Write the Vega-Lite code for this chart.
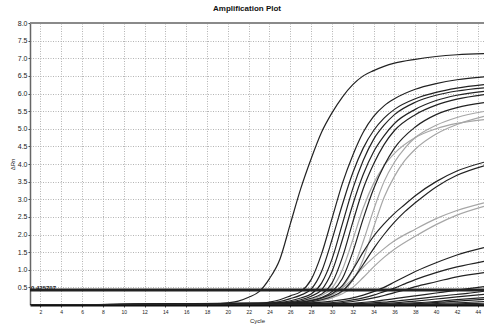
{
"$schema": "https://vega.github.io/schema/vega-lite/v6.json",
"width": 454, "height": 282,
"autosize": {"type": "none"},
"padding": {"left": 30, "top": 23, "right": 0, "bottom": 23},
"background": "white",
"title": {"text": "Amplification Plot", "fontSize": 8, "fontWeight": "bold", "font": "Liberation Sans", "color": "#111", "anchor": "middle", "dx": -10, "offset": 6},
"config": {"view": {"stroke": null}, "font": "Liberation Sans"},
"layer": [
{
"data": {"values": [
{"s":"G1","c":1,"v":0},{"s":"G1","c":27,"v":0.06},{"s":"G1","c":28,"v":0.1},{"s":"G1","c":29,"v":0.17},{"s":"G1","c":30,"v":0.28},{"s":"G1","c":31,"v":0.5},{"s":"G1","c":32,"v":1.0},{"s":"G1","c":33,"v":1.8},{"s":"G1","c":34,"v":2.7},{"s":"G1","c":35,"v":3.5},{"s":"G1","c":36,"v":4.05},{"s":"G1","c":37,"v":4.45},{"s":"G1","c":38,"v":4.75},{"s":"G1","c":40,"v":5.1},{"s":"G1","c":42,"v":5.32},{"s":"G1","c":44.6,"v":5.49},
{"s":"G2","c":1,"v":0},{"s":"G2","c":28,"v":0.07},{"s":"G2","c":29,"v":0.12},{"s":"G2","c":30,"v":0.2},{"s":"G2","c":31,"v":0.38},{"s":"G2","c":32,"v":0.7},{"s":"G2","c":33,"v":1.3},{"s":"G2","c":34,"v":2.2},{"s":"G2","c":35,"v":3.05},{"s":"G2","c":36,"v":3.65},{"s":"G2","c":37,"v":4.1},{"s":"G2","c":38,"v":4.42},{"s":"G2","c":40,"v":4.85},{"s":"G2","c":42,"v":5.12},{"s":"G2","c":44.6,"v":5.35},
{"s":"G3","c":1,"v":0},{"s":"G3","c":26,"v":0.06},{"s":"G3","c":27,"v":0.1},{"s":"G3","c":28,"v":0.16},{"s":"G3","c":29,"v":0.27},{"s":"G3","c":30,"v":0.48},{"s":"G3","c":31,"v":1.0},{"s":"G3","c":32,"v":1.85},{"s":"G3","c":33,"v":2.75},{"s":"G3","c":34,"v":3.45},{"s":"G3","c":35,"v":3.95},{"s":"G3","c":36,"v":4.3},{"s":"G3","c":38,"v":4.75},{"s":"G3","c":40,"v":5.0},{"s":"G3","c":42,"v":5.15},{"s":"G3","c":44.6,"v":5.26},
{"s":"E1","c":1,"v":0},{"s":"E1","c":27,"v":0.08},{"s":"E1","c":28,"v":0.13},{"s":"E1","c":29,"v":0.2},{"s":"E1","c":30,"v":0.3},{"s":"E1","c":31,"v":0.48},{"s":"E1","c":32,"v":0.75},{"s":"E1","c":33,"v":1.07},{"s":"E1","c":34,"v":1.35},{"s":"E1","c":35,"v":1.6},{"s":"E1","c":36,"v":1.82},{"s":"E1","c":38,"v":2.15},{"s":"E1","c":40,"v":2.45},{"s":"E1","c":42,"v":2.68},{"s":"E1","c":44.6,"v":2.9},
{"s":"E2","c":1,"v":0},{"s":"E2","c":28,"v":0.1},{"s":"E2","c":29,"v":0.14},{"s":"E2","c":30,"v":0.21},{"s":"E2","c":31,"v":0.32},{"s":"E2","c":32,"v":0.5},{"s":"E2","c":33,"v":0.78},{"s":"E2","c":34,"v":1.08},{"s":"E2","c":35,"v":1.35},{"s":"E2","c":36,"v":1.58},{"s":"E2","c":38,"v":1.95},{"s":"E2","c":40,"v":2.28},{"s":"E2","c":42,"v":2.55},{"s":"E2","c":44.6,"v":2.8},
{"s":"A","c":1,"v":0},{"s":"A","c":18,"v":0.02},{"s":"A","c":20,"v":0.06},{"s":"A","c":21,"v":0.11},{"s":"A","c":22,"v":0.22},{"s":"A","c":23,"v":0.38},{"s":"A","c":24,"v":0.75},{"s":"A","c":25,"v":1.3},{"s":"A","c":26,"v":2.3},{"s":"A","c":27,"v":3.3},{"s":"A","c":28,"v":4.15},{"s":"A","c":29,"v":4.9},{"s":"A","c":30,"v":5.45},{"s":"A","c":31,"v":5.9},{"s":"A","c":32,"v":6.25},{"s":"A","c":33,"v":6.5},{"s":"A","c":34,"v":6.65},{"s":"A","c":35,"v":6.77},{"s":"A","c":36,"v":6.86},{"s":"A","c":38,"v":6.97},{"s":"A","c":40,"v":7.05},{"s":"A","c":42,"v":7.1},{"s":"A","c":44.6,"v":7.13},
{"s":"B1","c":1,"v":0},{"s":"B1","c":23,"v":0.04},{"s":"B1","c":24,"v":0.08},{"s":"B1","c":25,"v":0.15},{"s":"B1","c":26,"v":0.26},{"s":"B1","c":27,"v":0.38},{"s":"B1","c":28,"v":0.72},{"s":"B1","c":29,"v":1.45},{"s":"B1","c":30,"v":2.45},{"s":"B1","c":31,"v":3.45},{"s":"B1","c":32,"v":4.25},{"s":"B1","c":33,"v":4.9},{"s":"B1","c":34,"v":5.35},{"s":"B1","c":35,"v":5.65},{"s":"B1","c":36,"v":5.85},{"s":"B1","c":38,"v":6.12},{"s":"B1","c":40,"v":6.28},{"s":"B1","c":42,"v":6.39},{"s":"B1","c":44.6,"v":6.47},
{"s":"B2","c":1,"v":0},{"s":"B2","c":24,"v":0.05},{"s":"B2","c":25,"v":0.1},{"s":"B2","c":26,"v":0.18},{"s":"B2","c":27,"v":0.28},{"s":"B2","c":28,"v":0.45},{"s":"B2","c":29,"v":0.95},{"s":"B2","c":30,"v":1.85},{"s":"B2","c":31,"v":2.85},{"s":"B2","c":32,"v":3.75},{"s":"B2","c":33,"v":4.45},{"s":"B2","c":34,"v":4.95},{"s":"B2","c":35,"v":5.3},{"s":"B2","c":36,"v":5.55},{"s":"B2","c":38,"v":5.85},{"s":"B2","c":40,"v":6.03},{"s":"B2","c":42,"v":6.15},{"s":"B2","c":44.6,"v":6.25},
{"s":"B3","c":1,"v":0},{"s":"B3","c":24,"v":0.04},{"s":"B3","c":25,"v":0.07},{"s":"B3","c":26,"v":0.12},{"s":"B3","c":27,"v":0.2},{"s":"B3","c":28,"v":0.31},{"s":"B3","c":29,"v":0.62},{"s":"B3","c":30,"v":1.3},{"s":"B3","c":31,"v":2.3},{"s":"B3","c":32,"v":3.3},{"s":"B3","c":33,"v":4.1},{"s":"B3","c":34,"v":4.7},{"s":"B3","c":35,"v":5.1},{"s":"B3","c":36,"v":5.4},{"s":"B3","c":38,"v":5.75},{"s":"B3","c":40,"v":5.95},{"s":"B3","c":42,"v":6.07},{"s":"B3","c":44.6,"v":6.16},
{"s":"B4","c":1,"v":0},{"s":"B4","c":25,"v":0.05},{"s":"B4","c":26,"v":0.09},{"s":"B4","c":27,"v":0.15},{"s":"B4","c":28,"v":0.25},{"s":"B4","c":29,"v":0.43},{"s":"B4","c":30,"v":0.95},{"s":"B4","c":31,"v":1.85},{"s":"B4","c":32,"v":2.85},{"s":"B4","c":33,"v":3.7},{"s":"B4","c":34,"v":4.35},{"s":"B4","c":35,"v":4.8},{"s":"B4","c":36,"v":5.15},{"s":"B4","c":38,"v":5.55},{"s":"B4","c":40,"v":5.8},{"s":"B4","c":42,"v":5.95},{"s":"B4","c":44.6,"v":6.06},
{"s":"B5","c":1,"v":0},{"s":"B5","c":25,"v":0.04},{"s":"B5","c":26,"v":0.07},{"s":"B5","c":27,"v":0.11},{"s":"B5","c":28,"v":0.19},{"s":"B5","c":29,"v":0.31},{"s":"B5","c":30,"v":0.62},{"s":"B5","c":31,"v":1.35},{"s":"B5","c":32,"v":2.35},{"s":"B5","c":33,"v":3.3},{"s":"B5","c":34,"v":4.0},{"s":"B5","c":35,"v":4.55},{"s":"B5","c":36,"v":4.95},{"s":"B5","c":38,"v":5.4},{"s":"B5","c":40,"v":5.67},{"s":"B5","c":42,"v":5.84},{"s":"B5","c":44.6,"v":5.97},
{"s":"B6","c":1,"v":0},{"s":"B6","c":26,"v":0.05},{"s":"B6","c":27,"v":0.08},{"s":"B6","c":28,"v":0.13},{"s":"B6","c":29,"v":0.21},{"s":"B6","c":30,"v":0.38},{"s":"B6","c":31,"v":0.75},{"s":"B6","c":32,"v":1.5},{"s":"B6","c":33,"v":2.45},{"s":"B6","c":34,"v":3.3},{"s":"B6","c":35,"v":3.95},{"s":"B6","c":36,"v":4.45},{"s":"B6","c":38,"v":5.05},{"s":"B6","c":40,"v":5.4},{"s":"B6","c":42,"v":5.6},{"s":"B6","c":44.6,"v":5.74},
{"s":"D1","c":1,"v":0},{"s":"D1","c":26,"v":0.05},{"s":"D1","c":28,"v":0.12},{"s":"D1","c":29,"v":0.2},{"s":"D1","c":30,"v":0.32},{"s":"D1","c":31,"v":0.55},{"s":"D1","c":32,"v":1.0},{"s":"D1","c":33,"v":1.5},{"s":"D1","c":34,"v":1.95},{"s":"D1","c":35,"v":2.3},{"s":"D1","c":36,"v":2.6},{"s":"D1","c":37,"v":2.85},{"s":"D1","c":38,"v":3.1},{"s":"D1","c":40,"v":3.5},{"s":"D1","c":42,"v":3.8},{"s":"D1","c":44.6,"v":4.05},
{"s":"D2","c":1,"v":0},{"s":"D2","c":27,"v":0.06},{"s":"D2","c":29,"v":0.15},{"s":"D2","c":30,"v":0.24},{"s":"D2","c":31,"v":0.4},{"s":"D2","c":32,"v":0.72},{"s":"D2","c":33,"v":1.15},{"s":"D2","c":34,"v":1.6},{"s":"D2","c":35,"v":2.0},{"s":"D2","c":36,"v":2.35},{"s":"D2","c":37,"v":2.65},{"s":"D2","c":38,"v":2.9},{"s":"D2","c":40,"v":3.35},{"s":"D2","c":42,"v":3.68},{"s":"D2","c":44.6,"v":3.95},
{"s":"F1","c":1,"v":0},{"s":"F1","c":28,"v":0.06},{"s":"F1","c":30,"v":0.11},{"s":"F1","c":32,"v":0.2},{"s":"F1","c":33,"v":0.28},{"s":"F1","c":34,"v":0.38},{"s":"F1","c":35,"v":0.5},{"s":"F1","c":36,"v":0.65},{"s":"F1","c":37,"v":0.8},{"s":"F1","c":38,"v":0.95},{"s":"F1","c":40,"v":1.2},{"s":"F1","c":42,"v":1.42},{"s":"F1","c":44.6,"v":1.63},
{"s":"F2","c":1,"v":0},{"s":"F2","c":29,"v":0.05},{"s":"F2","c":31,"v":0.1},{"s":"F2","c":33,"v":0.2},{"s":"F2","c":34,"v":0.28},{"s":"F2","c":35,"v":0.38},{"s":"F2","c":36,"v":0.48},{"s":"F2","c":37,"v":0.6},{"s":"F2","c":38,"v":0.72},{"s":"F2","c":40,"v":0.92},{"s":"F2","c":42,"v":1.08},{"s":"F2","c":44.6,"v":1.24},
{"s":"F3","c":1,"v":0},{"s":"F3","c":30,"v":0.05},{"s":"F3","c":32,"v":0.1},{"s":"F3","c":34,"v":0.2},{"s":"F3","c":35,"v":0.27},{"s":"F3","c":36,"v":0.35},{"s":"F3","c":37,"v":0.43},{"s":"F3","c":38,"v":0.52},{"s":"F3","c":40,"v":0.66},{"s":"F3","c":42,"v":0.8},{"s":"F3","c":44.6,"v":0.92},
{"s":"H1","c":1,"v":0},{"s":"H1","c":30,"v":0.03},{"s":"H1","c":34,"v":0.1},{"s":"H1","c":36,"v":0.18},{"s":"H1","c":38,"v":0.26},{"s":"H1","c":40,"v":0.34},{"s":"H1","c":42,"v":0.42},{"s":"H1","c":44.6,"v":0.52},
{"s":"H2","c":1,"v":0},{"s":"H2","c":31,"v":0.03},{"s":"H2","c":35,"v":0.08},{"s":"H2","c":37,"v":0.14},{"s":"H2","c":39,"v":0.2},{"s":"H2","c":41,"v":0.27},{"s":"H2","c":43,"v":0.33},{"s":"H2","c":44.6,"v":0.39},
{"s":"H3","c":1,"v":0},{"s":"H3","c":32,"v":0.02},{"s":"H3","c":36,"v":0.06},{"s":"H3","c":38,"v":0.11},{"s":"H3","c":40,"v":0.17},{"s":"H3","c":42,"v":0.23},{"s":"H3","c":44.6,"v":0.3},
{"s":"H4","c":1,"v":0},{"s":"H4","c":33,"v":0.02},{"s":"H4","c":37,"v":0.05},{"s":"H4","c":40,"v":0.1},{"s":"H4","c":42,"v":0.15},{"s":"H4","c":44.6,"v":0.21},
{"s":"H5","c":1,"v":0},{"s":"H5","c":34,"v":0.01},{"s":"H5","c":38,"v":0.04},{"s":"H5","c":41,"v":0.09},{"s":"H5","c":44.6,"v":0.16},
{"s":"H6","c":1,"v":0},{"s":"H6","c":35,"v":0.01},{"s":"H6","c":39,"v":0.03},{"s":"H6","c":44.6,"v":0.1},
{"s":"H7","c":1,"v":0},{"s":"H7","c":36,"v":0.01},{"s":"H7","c":40,"v":0.02},{"s":"H7","c":44.6,"v":0.05},
{"s":"Z1","c":1,"v":0.01},{"s":"Z1","c":44.6,"v":0.01},
{"s":"Z2","c":1,"v":0},{"s":"Z2","c":44.6,"v":0}
]},
"mark": {"type": "line", "interpolate": "monotone", "strokeWidth": 1.2, "clip": true},
"encoding": {
"x": {"field": "c", "type": "quantitative", "scale": {"domain": [1, 44.6], "nice": false, "zero": false},
"axis": {"values": [2,4,6,8,10,12,14,16,18,20,22,24,26,28,30,32,34,36,38,40,42,44], "tickCount": 60, "labelOverlap": false, "title": "Cycle", "titleFontSize": 6, "titleFontWeight": "normal", "titlePadding": 3, "titleColor": "#222", "labelFontSize": 5, "labelPadding": 2, "labelColor": "#222", "tickSize": 2, "tickColor": "#444", "domainColor": "#111", "domainWidth": 2, "grid": true, "gridColor": "#b4b4b4", "gridDash": [1, 1.5], "labelFlush": false}},
"y": {"field": "v", "type": "quantitative", "scale": {"domain": [0, 8], "nice": false},
"axis": {"values": [0.5,1,1.5,2,2.5,3,3.5,4,4.5,5,5.5,6,6.5,7,7.5,8], "tickCount": 60, "labelOverlap": false, "labelFlush": false, "format": ".1f", "title": "ΔRn", "titleFontSize": 6, "titleFontWeight": "normal", "titlePadding": 2, "titleColor": "#222", "labelFontSize": 7, "labelPadding": 1, "labelColor": "#222", "tickSize": 2, "tickColor": "#444", "domainColor": "#666", "domainWidth": 1.5, "grid": true, "gridColor": "#b4b4b4", "gridDash": [1, 1.5]}},
"color": {"field": "s", "type": "nominal", "legend": null,
"scale": {"domain": ["G1","G2","G3","E1","E2","A","B1","B2","B3","B4","B5","B6","D1","D2","F1","F2","F3","H1","H2","H3","H4","H5","H6","H7","Z1","Z2"],
"range": ["#a6a6a6","#a6a6a6","#a6a6a6","#a6a6a6","#a6a6a6","#222222","#222222","#222222","#222222","#222222","#222222","#222222","#222222","#222222","#222222","#222222","#222222","#222222","#222222","#222222","#222222","#222222","#222222","#222222","#222222","#222222"]}},
"detail": {"field": "s"}
}
},
{
"data": {"values": [{"th": 0.425707}]},
"mark": {"type": "rule", "strokeWidth": 3, "color": "#222222"},
"encoding": {"y": {"field": "th", "type": "quantitative"}}
},
{
"data": {"values": [{"th": 0.425707, "start": 1}]},
"mark": {"type": "text", "align": "left", "baseline": "bottom", "dx": 1, "dy": 1, "fontSize": 6, "fontWeight": "bold", "color": "#222222"},
"encoding": {"x": {"field": "start", "type": "quantitative"}, "y": {"field": "th", "type": "quantitative"}, "text": {"field": "th", "type": "quantitative", "format": ".6f"}}
},
{
"data": {"values": [{"top": 8}]},
"mark": {"type": "rule", "strokeWidth": 2, "color": "#8a8a8a"},
"encoding": {"y": {"field": "top", "type": "quantitative"}}
}
]
}
